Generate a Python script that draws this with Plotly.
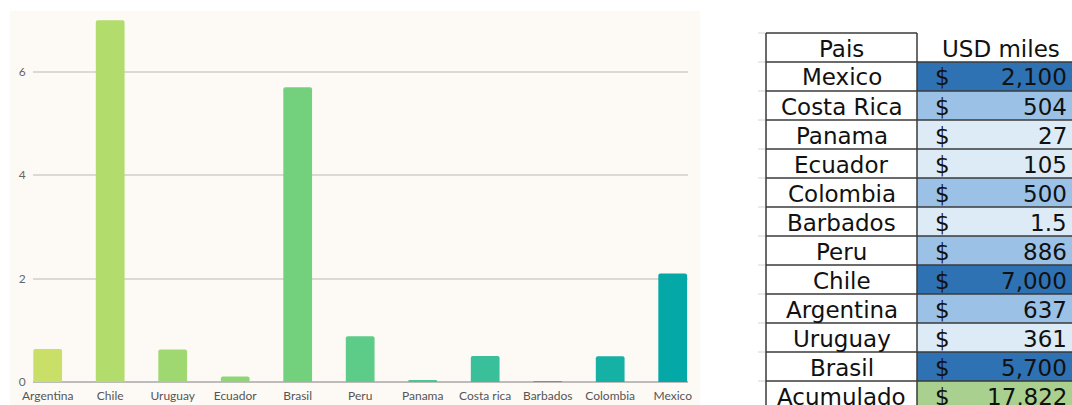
import plotly.graph_objects as go

# Bar chart data (USD millions)
countries = ["Argentina", "Chile", "Uruguay", "Ecuador", "Brasil", "Peru",
             "Panama", "Costa rica", "Barbados", "Colombia", "Mexico"]
amounts = [0.637, 7.0, 0.63, 0.105, 5.7, 0.886, 0.027, 0.504, 0.0015, 0.5, 2.1]
bar_colors = ["#c9df68", "#b2dc6b", "#9fd870", "#8dd575", "#73d17e", "#5ecc89",
              "#4bc692", "#39c09a", "#26b9a0", "#15b1a4", "#04a8a6"]
y_ticks = [0, 2, 4, 6]

# Table data (USD thousands)
table_header = ["Pais", "USD miles"]
table_countries = ["Mexico", "Costa Rica", "Panama", "Ecuador", "Colombia", "Barbados",
                   "Peru", "Chile", "Argentina", "Uruguay", "Brasil", "Acumulado"]
table_values = ["2,100", "504", "27", "105", "500", "1.5",
                "886", "7,000", "637", "361", "5,700", "17,822"]
table_numeric = [2100, 504, 27, 105, 500, 1.5, 886, 7000, 637, 361, 5700, 17822]

W, H = 1072, 405


def px(x):
    return x / W


def py(y):
    return (H - y) / H


fig = go.Figure()
fig.add_trace(go.Bar(
    x=countries, y=amounts,
    marker=dict(color=bar_colors, line=dict(width=0)),
    width=0.46,
    hoverinfo="x+y",
))

shapes = []
annotations = []

# cream chart panel
shapes.append(dict(type="rect", xref="paper", yref="paper",
                   x0=px(10), x1=px(700), y0=py(405), y1=py(11),
                   fillcolor="#fdfaf5", line=dict(width=0), layer="below"))

# table geometry
tbl_left, tbl_mid, tbl_right = 766, 917, 1085
tbl_top, row_h = 33, 29
dark, medium, light, total_col = "#2f72b4", "#9bc2e6", "#ddebf7", "#a9d08e"
text_font = dict(family="DejaVu Sans", size=23, color="#111111")


def tier_color(v, is_total):
    if is_total:
        return total_col
    if v >= 2000:
        return dark
    if v >= 500:
        return medium
    return light


n_rows = len(table_countries)
for i in range(n_rows):
    y0 = tbl_top + row_h * (i + 1)
    y1 = y0 + row_h
    shapes.append(dict(type="rect", xref="paper", yref="paper",
                       x0=px(tbl_mid), x1=px(tbl_right), y0=py(y1), y1=py(y0),
                       fillcolor=tier_color(table_numeric[i], i == n_rows - 1),
                       line=dict(width=0), layer="below"))

# table lines
line_style = dict(color="#3a3a3a", width=1.5)
bottom = tbl_top + row_h * (n_rows + 1)
for i in range(n_rows + 1):
    y = tbl_top + row_h * i
    shapes.append(dict(type="line", xref="paper", yref="paper",
                       x0=px(tbl_left), x1=px(tbl_mid if i == 0 else tbl_right),
                       y0=py(y), y1=py(y), line=line_style))
    shapes.append(dict(type="line", xref="paper", yref="paper",
                       x0=px(758), x1=px(tbl_left), y0=py(y), y1=py(y),
                       line=dict(color="#d4d4d4", width=1)))
for x in (tbl_left, tbl_mid):
    shapes.append(dict(type="line", xref="paper", yref="paper",
                       x0=px(x), x1=px(x), y0=py(bottom), y1=py(tbl_top),
                       line=line_style))

# header text
annotations.append(dict(text=table_header[0], xref="paper", yref="paper",
                        x=px((tbl_left + tbl_mid) / 2), y=py(tbl_top + row_h / 2 + 1),
                        xanchor="center", yanchor="middle", showarrow=False, font=text_font))
annotations.append(dict(text=table_header[1], xref="paper", yref="paper",
                        x=px(1001), y=py(tbl_top + row_h / 2 + 1),
                        xanchor="center", yanchor="middle", showarrow=False, font=text_font))

for i, (name, val) in enumerate(zip(table_countries, table_values)):
    yc = tbl_top + row_h * (i + 1) + row_h / 2 + 1
    annotations.append(dict(text=name, xref="paper", yref="paper",
                            x=px((tbl_left + tbl_mid) / 2), y=py(yc),
                            xanchor="center", yanchor="middle", showarrow=False, font=text_font))
    annotations.append(dict(text="$", xref="paper", yref="paper",
                            x=px(933), y=py(yc),
                            xanchor="left", yanchor="middle", showarrow=False, font=text_font))
    annotations.append(dict(text=val, xref="paper", yref="paper",
                            x=px(1069), y=py(yc),
                            xanchor="right", yanchor="middle", showarrow=False, font=text_font))

fig.update_layout(
    width=W, height=H, autosize=False,
    margin=dict(l=0, r=0, t=0, b=0),
    paper_bgcolor="white",
    plot_bgcolor="rgba(0,0,0,0)",
    showlegend=False,
    barcornerradius=2,
    shapes=shapes,
    annotations=annotations,
    font=dict(family="Lato", size=12, color="#555555"),
)
fig.update_xaxes(
    domain=[px(33), px(688)],
    range=[-0.235, 10.245],
    showgrid=False, showline=False, zeroline=False,
    ticks="outside", ticklen=3, tickcolor="rgba(0,0,0,0)",
    tickfont=dict(family="Lato", size=12, color="#555555"),
    automargin=False,
)
fig.update_yaxes(
    domain=[py(382), py(15)],
    range=[0, 7.1],
    tickvals=y_ticks,
    showgrid=True, gridcolor="#dcd9d3", gridwidth=1.5,
    zeroline=True, zerolinecolor="#bdbcba", zerolinewidth=2,
    showline=False,
    tickfont=dict(family="Lato", size=12, color="#666666"),
    ticks="outside", ticklen=4, tickcolor="rgba(0,0,0,0)",
    automargin=False,
)

fig.write_html("out.html")
